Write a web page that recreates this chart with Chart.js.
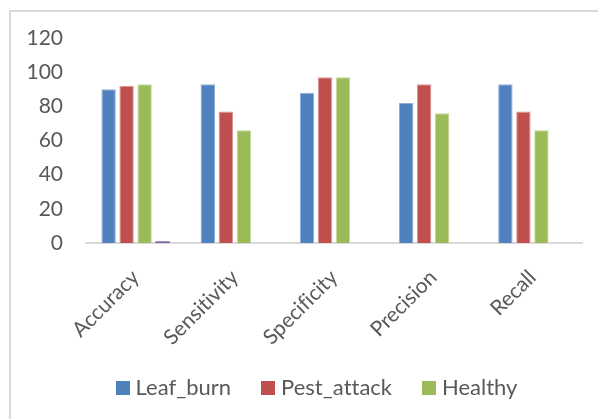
<!DOCTYPE html>
<html>
<head>
<meta charset="utf-8">
<script src="https://cdn.jsdelivr.net/npm/chart.js@4/dist/chart.umd.min.js"></script>
<style>
  html, body { margin: 0; padding: 0; background: #fff; overflow: hidden; width: 598px; height: 419px; }
  #frame { position: absolute; left: 9px; top: 10px; width: 620px; height: 409px;
           border-left: 2px solid #d9d9d9; border-top: 2px solid #d9d9d9; }
  #wrap { position: absolute; left: 0; top: 0; width: 616px; height: 407px; }
</style>
</head>
<body>
<div id="frame"><div id="wrap"><canvas id="c"></canvas></div></div>
<script>
const categories = ["Accuracy", "Sensitivity", "Specificity", "Precision", "Recall"];
const leafBurn   = [90, 93, 88, 82, 93];
const pestAttack = [92, 77, 97, 93, 77];
const healthy    = [93, 66, 97, 76, 66];
const series4    = [1, null, null, null, null];
const yTicks     = [0, 20, 40, 60, 80, 100, 120];

Chart.defaults.font.family = "Lato, 'Open Sans', sans-serif";
Chart.defaults.color = "#595959";

function squareSwatch(color) {
  const c = document.createElement("canvas");
  c.width = 14; c.height = 14;
  const g = c.getContext("2d");
  g.fillStyle = color;
  g.fillRect(0, 0, 14, 14);
  return c;
}

const noLigatures = {
  id: "noLigatures",
  beforeUpdate(chart) { chart.ctx.textRendering = "optimizeSpeed"; },
  beforeLayout(chart) { chart.ctx.textRendering = "optimizeSpeed"; },
  beforeDraw(chart) { chart.ctx.textRendering = "optimizeSpeed"; }
};

new Chart(document.getElementById("c"), {
  type: "bar",
  plugins: [noLigatures],
  data: {
    labels: categories,
    datasets: [
      { label: "Leaf_burn", data: leafBurn, backgroundColor: "#4F81BD", borderColor: "#8eaedb", borderWidth: 1 },
      { label: "Pest_attack", data: pestAttack, backgroundColor: "#C0504D", borderColor: "#dc9593", borderWidth: 1 },
      { label: "Healthy", data: healthy, backgroundColor: "#9BBB59", borderColor: "#c4d99c", borderWidth: 1 },
      { label: "Series4", data: series4, backgroundColor: "#8064A2", borderColor: "#8064A2", borderWidth: 0 }
    ]
  },
  options: {
    responsive: true,
    maintainAspectRatio: false,
    animation: false,
    datasets: { bar: { categoryPercentage: 0.726, barPercentage: 0.8 } },
    layout: { padding: { top: 26, right: 0, bottom: 10, left: 0 } },
    scales: {
      x: {
        grid: { display: false, drawTicks: false },
        border: { display: true, color: "#d9d9d9", width: 2 },
        ticks: { font: { size: 21 }, minRotation: 45, maxRotation: 45, padding: 22, color: "#595959" },
        afterFit: (s) => { s.height = 99; s._computeLabelArea = () => undefined; }
      },
      y: {
        min: 0, max: 120,
        grid: { display: false, drawTicks: false },
        border: { display: false },
        afterBuildTicks: (s) => { s.ticks = yTicks.map(v => ({ value: v })); },
        ticks: { font: { size: 21 }, padding: 23, color: "#595959" },
        afterFit: (s) => { s.width = 75; s.paddingTop = 10; s.paddingBottom = 10; }
      },
      yRight: {
        position: "right",
        display: true,
        grid: { display: false, drawTicks: false },
        border: { display: false },
        ticks: { display: false },
        afterFit: (s) => { s.width = 45; s.paddingTop = 0; s.paddingBottom = 0; }
      }
    },
    plugins: {
      legend: {
        position: "bottom",
        labels: {
          font: { size: 22 },
          usePointStyle: true,
          pointStyleWidth: 4,
          boxHeight: 14,
          padding: 35,
          color: "#595959",
          generateLabels: (chart) => Chart.defaults.plugins.legend.labels.generateLabels(chart)
            .filter(it => it.text !== "Series4")
            .map(it => Object.assign(it, { lineWidth: 0, pointStyle: squareSwatch(it.fillStyle) }))
        }
      },
      tooltip: { enabled: false }
    }
  }
});
</script>
</body>
</html>
